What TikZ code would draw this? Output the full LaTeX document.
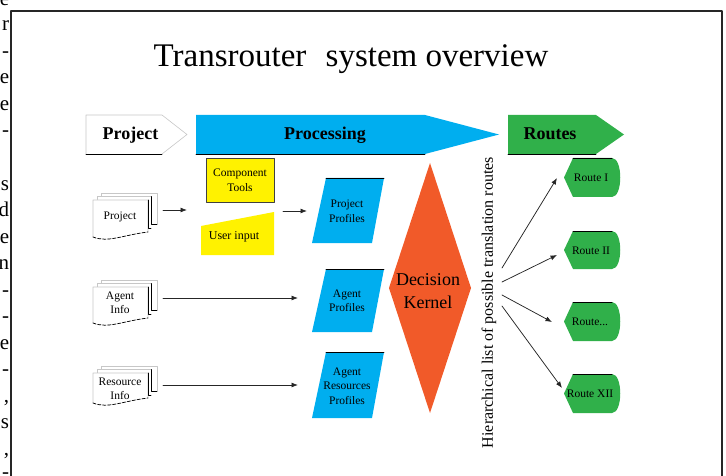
\documentclass[tikz,border=0pt]{standalone}
\usepackage{fontspec}
\setmainfont{Liberation Serif}
\usetikzlibrary{arrows.meta}

\definecolor{proccyan}{RGB}{0,174,239}
\definecolor{routegreen}{RGB}{48,176,74}
\definecolor{kernelorange}{RGB}{241,90,41}
\definecolor{inputyellow}{RGB}{255,242,0}

\begin{document}
\begin{tikzpicture}[x=1pt, y=-1pt, line cap=round, line join=round,
  lbl/.style={font=\fontsize{11.5}{14.5}\selectfont, align=center, inner sep=0pt},
  bandlbl/.style={font=\fontsize{18}{20}\selectfont\bfseries, inner sep=0pt, anchor=base},
  rimline/.style={black, line width=0.9pt},
  sheet/.style={fill=white, draw=black!22, line width=0.6pt},
  flow/.style={-{Latex[length=6.5pt,width=5pt]}, black!85, line width=0.75pt},
  margin/.style={font=\fontsize{21}{21}\selectfont, inner sep=0pt, anchor=base east}]

\useasboundingbox (0,0) rectangle (726,476);

% --- Page frame and cut-off text of the page ---
\draw[black!85, line width=2pt] (11,480) -- (11,11) -- (722,11) -- (722,480);
\node[margin] (m0) at (9.3,6) {e};
\node[margin] (m1) at (9.3,31) {r};
\node[margin] (m2) at (9.3,57.5) {-};
\node[margin] (m3) at (9.3,84) {e};
\node[margin] (m4) at (9.3,110.5) {e};
\node[margin] (m5) at (9.3,137) {-};
\node[margin] (m7) at (9.3,190) {s};
\node[margin] (m8) at (9.3,216.5) {d};
\node[margin] (m9) at (9.3,243) {e};
\node[margin] (m10) at (9.3,269.5) {n};
\node[margin] (m11) at (9.3,296) {-};
\node[margin] (m12) at (9.3,322.5) {-};
\node[margin] (m13) at (9.3,349) {e};
\node[margin] (m14) at (9.3,375.5) {-};
\node[margin] (m15) at (9.3,402) {,};
\node[margin] (m16) at (9.3,428.5) {s};
\node[margin] (m17) at (9.3,455) {,};
\node[margin] (m18) at (9.3,478) {-};

% --- Title ---
\node[font=\fontsize{33}{36}\selectfont, inner sep=0pt, anchor=base] (title) at (351,67)
  {Transrouter\hspace{11pt} system overview};

% --- Band arrows ---
\filldraw[fill=white, draw=black!22, line width=0.6pt] (86,154) -- (86,115) -- (162,115) -- (187,134.5) -- (162,154);
\draw[rimline] (86,154) -- (162,154);
\node[bandlbl] (project) at (130.5,140) {Project};

\fill[proccyan] (196,115) -- (425,115) -- (499,134.5) -- (425,154) -- (196,154) -- cycle;
\draw[rimline] (196,154) -- (425,154);
\node[bandlbl] (processing) at (325,140) {Processing};

\fill[routegreen] (508,115) -- (596,115) -- (624,134.5) -- (596,154) -- (508,154) -- cycle;
\draw[rimline] (508,154) -- (596,154);
\node[bandlbl] (routes) at (550,140) {Routes};

% --- Documents ---
\begin{scope}[shift={(93,200)}]
  \filldraw[sheet] (8,24) -- (8,-7) -- (64,-7) -- (64,24);
  \filldraw[sheet] (4,28) -- (4,-3.5) -- (58,-3.5);
  \draw[rimline] (58,-3.5) -- (58,24) -- (64,24);
  \filldraw[sheet] (0,37) -- (0,0) -- (55,0) -- (55,32) .. controls (30,35) and (15,43) .. (0,37);
  \draw[black, densely dashed, line width=0.7pt] (0,37) .. controls (15,43) and (30,35) .. (55,32);
  \draw[rimline] (55,0) -- (55,28) -- (58,28);
\end{scope}
\node[lbl] (projectdoc) at (120,217) {Project};

\begin{scope}[shift={(93,287)}]
  \filldraw[sheet] (8,23) -- (8,-7) -- (64,-7) -- (64,23);
  \filldraw[sheet] (4,27) -- (4,-3.5) -- (58,-3.5);
  \draw[rimline] (58,-3.5) -- (58,23) -- (64,23);
  \filldraw[sheet] (0,36) -- (0,0) -- (55,0) -- (55,31) .. controls (30,34) and (15,42) .. (0,36);
  \draw[black, densely dashed, line width=0.7pt] (0,36) .. controls (15,42) and (30,34) .. (55,31);
  \draw[rimline] (55,0) -- (55,27) -- (58,27);
\end{scope}
\node[lbl] (agentdoc) at (120,303) {Agent\\Info};

\begin{scope}[shift={(93,373)}]
  \filldraw[sheet] (8,18) -- (8,-7) -- (64,-7) -- (64,18);
  \filldraw[sheet] (4,22) -- (4,-3.5) -- (58,-3.5);
  \draw[rimline] (58,-3.5) -- (58,18) -- (64,18);
  \filldraw[sheet] (0,30) -- (0,0) -- (55,0) -- (55,25) .. controls (30,28) and (15,36) .. (0,30);
  \draw[black, densely dashed, line width=0.7pt] (0,30) .. controls (15,36) and (30,28) .. (55,25);
  \draw[rimline] (55,0) -- (55,22) -- (58,22);
\end{scope}
\node[lbl] (resourcedoc) at (120,389) {Resource\\Info};

% --- Component tools and user input ---
\node[lbl, draw=black!75, line width=0.8pt, fill=inputyellow, minimum width=68pt, minimum height=44pt]
  (tools) at (240,180) {Component\\Tools};
\fill[inputyellow] (201,226) -- (274,212) -- (274,255) -- (201,255) -- cycle;
\node[lbl, font=\fontsize{12}{14}\selectfont] (userinput) at (234,237) {User input};

% --- Profiles ---
\fill[proccyan] (326,178) -- (384,178) -- (372,243) -- (312,243) -- cycle;
\draw[rimline] (326,178) -- (384,178);
\node[lbl] (projprof) at (347,211) {Project\\Profiles};

\fill[proccyan] (326,269) -- (384,269) -- (372,332) -- (312,332) -- cycle;
\draw[rimline] (326,269) -- (384,269);
\node[lbl] (agentprof) at (347,301) {Agent\\Profiles};

\fill[proccyan] (326,352) -- (384,352) -- (372,418) -- (312,418) -- cycle;
\draw[rimline] (326,352) -- (384,352);
\node[lbl] (resprof) at (347,386) {Agent\\Resources\\Profiles};

% --- Decision kernel ---
\fill[kernelorange] (430,163) -- (471,288) -- (430,413) -- (389,288) -- cycle;
\node[font=\fontsize{18}{23}\selectfont, align=center, inner sep=0pt] (kernel) at (428,291) {Decision\\Kernel};

\node[font=\fontsize{16}{18}\selectfont, inner sep=0pt, rotate=90] (routelist) at (489,302.5)
  {Hierarchical list of possible translation routes};

% --- Route shapes ---
\fill[routegreen] (573,158) -- (612,158) .. controls (623,158) and (623,197) .. (612,197) -- (573,197) -- (564,177.5) -- cycle;
\draw[rimline] (573,158) -- (612,158);
\node[lbl] (route1) at (591,178) {Route I};

\fill[routegreen] (573,231) -- (612,231) .. controls (623,231) and (623,269) .. (612,269) -- (573,269) -- (564,250) -- cycle;
\draw[rimline] (573,231) -- (612,231);
\node[lbl] (route2) at (591,250.5) {Route II};

\fill[routegreen] (573,302) -- (612,302) .. controls (623,302) and (623,341) .. (612,341) -- (573,341) -- (564,321.5) -- cycle;
\draw[rimline] (573,302) -- (612,302);
\node[lbl] (route3) at (590,322) {Route...};

\fill[routegreen] (573,374) -- (612,374) .. controls (623,374) and (623,413) .. (612,413) -- (573,413) -- (564,393.5) -- cycle;
\draw[rimline] (573,374) -- (612,374);
\node[lbl] (route12) at (590,394) {Route XII};

% --- Connectors ---
\coordinate (projout) at (163,210);
\coordinate (projin) at (187,210);
\coordinate (inputsout) at (283,211);
\coordinate (projprofin) at (307,211);
\coordinate (agentout) at (163,298);
\coordinate (agentprofin) at (298,298);
\coordinate (resout) at (163,385);
\coordinate (resprofin) at (298,385);
\coordinate (fan1) at (502,268);
\coordinate (fan2) at (502,282);
\coordinate (fan3) at (502,295);
\coordinate (fan4) at (502,306);
\coordinate (route1in) at (557,178);
\coordinate (route2in) at (557,255);
\coordinate (route3in) at (552,322);
\coordinate (route12in) at (562,388);

\draw[flow] (projout) -- (projin);
\draw[flow] (inputsout) -- (projprofin);
\draw[flow] (agentout) -- (agentprofin);
\draw[flow] (resout) -- (resprofin);
\draw[flow] (fan1) -- (route1in);
\draw[flow] (fan2) -- (route2in);
\draw[flow] (fan3) -- (route3in);
\draw[flow] (fan4) -- (route12in);

\end{tikzpicture}
\end{document}
